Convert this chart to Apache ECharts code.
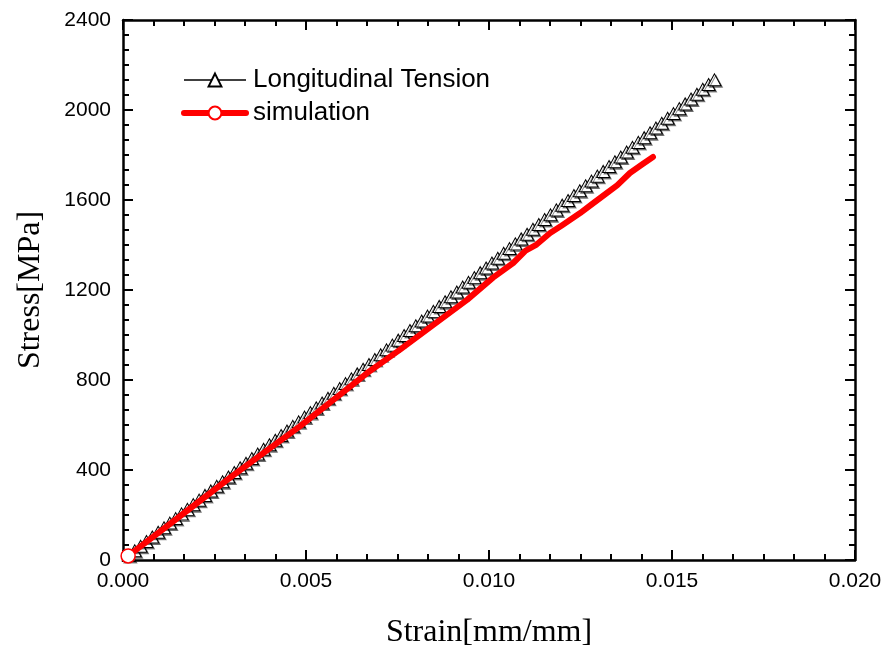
<!DOCTYPE html>
<html>
<head>
<meta charset="utf-8">
<script src="https://cdn.jsdelivr.net/npm/echarts@6/dist/echarts.min.js"></script>
<style>html,body{margin:0;padding:0;background:#fff}#c{width:886px;height:657px}</style>
</head>
<body>
<div id="c"></div>
<script>
// Longitudinal Tension (experiment) - strain [mm/mm]
const expStrain = [0.00016,0.00032,0.00048,0.00064,0.0008,0.00096,0.00112,0.00128,0.00144,0.0016,
0.00176,0.00192,0.00208,0.00224,0.0024,0.00256,0.00272,0.00288,0.00304,0.0032,
0.00336,0.00352,0.00368,0.00384,0.004,0.00416,0.00432,0.00448,0.00464,0.0048,
0.00496,0.00512,0.00528,0.00544,0.0056,0.00576,0.00592,0.00608,0.00624,0.0064,
0.00656,0.00672,0.00688,0.00704,0.0072,0.00736,0.00752,0.00768,0.00784,0.008,
0.00816,0.00832,0.00848,0.00864,0.0088,0.00896,0.00912,0.00928,0.00944,0.0096,
0.00976,0.00992,0.01008,0.01024,0.0104,0.01056,0.01072,0.01088,0.01104,0.0112,
0.01136,0.01152,0.01168,0.01184,0.012,0.01216,0.01232,0.01248,0.01264,0.0128,
0.01296,0.01312,0.01328,0.01344,0.0136,0.01376,0.01392,0.01408,0.01424,0.0144,
0.01456,0.01472,0.01488,0.01504,0.0152,0.01536,0.01552,0.01568,0.01584,0.016,0.01616];
// stress [MPa]
const expStress = [20,41,61,82,102,123,143,164,184,205,
225,246,266,287,307,328,348,369,389,410,
430,451,471,492,512,532,553,573,594,614,
635,655,676,698,719,741,762,784,805,827,
848,869,891,912,934,955,977,998,1020,1041,
1062,1084,1105,1127,1148,1170,1191,1213,1234,1255,
1277,1298,1320,1341,1363,1384,1405,1427,1448,1470,
1491,1513,1534,1556,1577,1598,1620,1641,1663,1684,
1706,1727,1749,1770,1791,1813,1834,1856,1877,1899,
1920,1941,1963,1984,2006,2027,2049,2070,2092,2113,2134];

// simulation
const simStrain = [0.00014,0.001,0.002,0.003,0.004,0.00484,0.00574,0.00667,0.00757,0.00847,
0.0094,0.01011,0.01066,0.011,0.0113,0.01167,0.012,0.01249,0.0128,0.01322,0.0135,0.01385,0.0142,0.01448];
const simStress = [18,125,250,375,495,595,711,831,935,1044,
1156,1255,1320,1375,1402,1453,1488,1542,1580,1631,1665,1720,1760,1791];

const xTicks = {min:0, max:0.02, interval:0.005};
const yTicks = {min:0, max:2400, interval:400};

const expData = expStrain.map((s,i)=>[s, expStress[i]]);
const simData = simStrain.map((s,i)=> i===0 ? [s, simStress[i]] : {value:[s, simStress[i]], symbol:'none'});

const chart = echarts.init(document.getElementById('c'));
const axisCommon = {
  axisLine:{show:true, onZero:false, lineStyle:{color:'#000', width:2.5}},
  axisTick:{show:true, inside:true, length:10, lineStyle:{color:'#000', width:2}},
  minorTick:{show:true, splitNumber:6, length:6, lineStyle:{color:'#000', width:2}},
  splitLine:{show:false}
};
const labelFont = {color:'#000', fontSize:21, fontFamily:'Liberation Sans, Arial, sans-serif'};
const nameFont = {color:'#000', fontSize:32, fontFamily:'Liberation Serif, Times New Roman, serif'};

chart.setOption({
  animation:false,
  backgroundColor:'#fff',
  grid:{left:123, right:31, top:20, bottom:97},
  legend:{
    orient:'vertical', left:176, top:62, itemGap:7,
    itemWidth:62, itemHeight:16,
    textStyle:{color:'#000', fontSize:26, fontFamily:'Liberation Sans, Arial, sans-serif', padding:[0,0,0,2]},
    data:[
      {name:'Longitudinal Tension', lineStyle:{width:1.6, color:'#000'}},
      {name:'simulation', lineStyle:{width:6, color:'#ff0000'}}
    ]
  },
  xAxis:[
    Object.assign({type:'value', position:'bottom', min:xTicks.min, max:xTicks.max, interval:xTicks.interval,
      name:'Strain[mm/mm]', nameLocation:'middle', nameGap:57, nameTextStyle:nameFont,
      axisLabel:Object.assign({margin:11, formatter:v=>v.toFixed(3)}, labelFont)}, axisCommon),
    Object.assign({type:'value', position:'top', min:xTicks.min, max:xTicks.max, interval:xTicks.interval,
      axisLabel:{show:false}}, axisCommon)
  ],
  yAxis:[
    Object.assign({type:'value', position:'left', min:yTicks.min, max:yTicks.max, interval:yTicks.interval,
      name:'Stress[MPa]', nameLocation:'middle', nameGap:76, nameTextStyle:nameFont,
      axisLabel:Object.assign({margin:12, formatter:v=>String(v)}, labelFont)}, axisCommon),
    Object.assign({type:'value', position:'right', min:yTicks.min, max:yTicks.max, interval:yTicks.interval,
      axisLabel:{show:false}}, axisCommon)
  ],
  series:[
    {
      name:'Longitudinal Tension', type:'line', data:expData,
      symbol:'triangle', symbolSize:[13,12], showAllSymbol:true,
      lineStyle:{color:'#000', width:1},
      itemStyle:{color:'#fff', borderColor:'#000', borderWidth:1,
        shadowColor:'rgba(0,0,0,0.45)', shadowOffsetX:1.5, shadowOffsetY:1.5, shadowBlur:0},
      z:2
    },
    {
      name:'simulation', type:'line', data:simData,
      symbol:'circle', symbolSize:14, showAllSymbol:true,
      lineStyle:{color:'#ff0000', width:6, cap:'round', join:'round'},
      itemStyle:{color:'#fff', borderColor:'#ff0000', borderWidth:1.5},
      z:3
    }
  ]
});
</script>
</body>
</html>
